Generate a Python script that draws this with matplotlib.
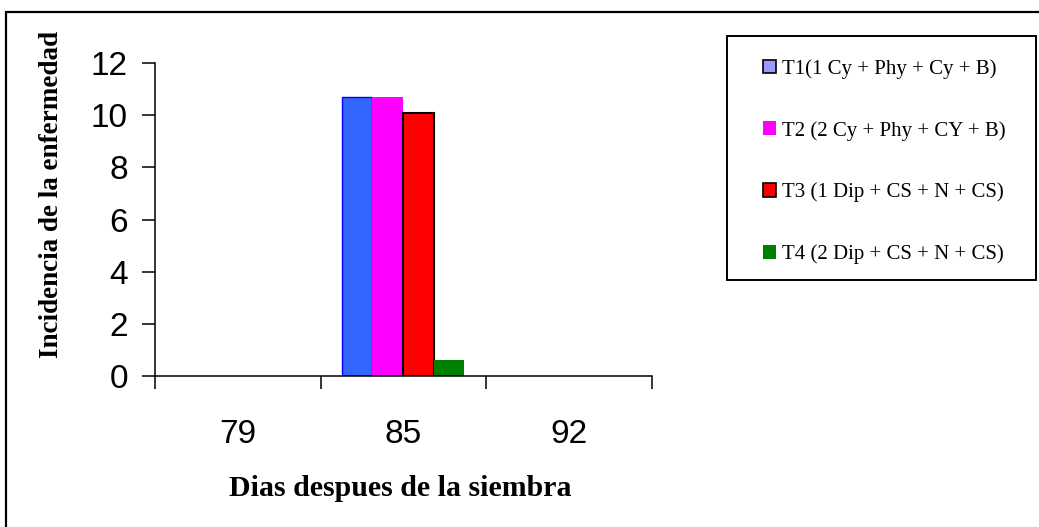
import matplotlib
matplotlib.use("Agg")
import matplotlib.pyplot as plt
from matplotlib.patches import Patch, Rectangle

# datos
dias = ["79", "85", "92"]
tratamientos = ["T1(1 Cy + Phy + Cy + B)", "T2 (2 Cy + Phy + CY + B)",
                "T3 (1 Dip + CS + N + CS)", "T4 (2 Dip + CS + N + CS)"]
t1 = [0, 10.7, 0]
t2 = [0, 10.7, 0]
t3 = [0, 10.1, 0]
t4 = [0, 0.6, 0]
y_ticks = [0, 2, 4, 6, 8, 10, 12]

serie = [t1, t2, t3, t4]
colores_barra = ["#3366FF", "#FF00FF", "#FF0000", "#008000"]
bordes_barra = ["#0000FF", "none", "black", "none"]
colores_leyenda = ["#9999FF", "#FF00FF", "#FF0000", "#008000"]
bordes_leyenda = ["black", "none", "black", "none"]

W, H = 1039, 527
fig = plt.figure(figsize=(W / 100, H / 100), dpi=100)
ax = fig.add_axes([155 / W, 1 - 376 / H, (652 - 155) / W, (376 - 63) / H])

ancho = 0.185
offsets = [-0.28, -0.095, 0.09, 0.275]
x = list(range(len(dias)))
for vals, off, c, e in zip(serie, offsets, colores_barra, bordes_barra):
    # sin borde en barras de valor cero
    bordes = [e if v > 0 else "none" for v in vals]
    ax.bar([i + off for i in x], vals, width=ancho, color=c,
           edgecolor=bordes, linewidth=1.5 if e == "black" else 1.0, zorder=2)

ax.set_xlim(-0.5, 2.5)
ax.set_ylim(0, 12)
ax.set_yticks(y_ticks)
ax.set_yticklabels([str(v) for v in y_ticks], fontfamily="Liberation Sans", fontsize=24)

# marcas entre categorias, etiquetas en el centro
ax.set_xticks([-0.5, 0.5, 1.5, 2.5])
ax.set_xticklabels([])
ax.set_xticks(x, minor=True)
ax.set_xticklabels(dias, minor=True, fontfamily="Liberation Sans", fontsize=24)
ax.tick_params(axis="x", which="minor", length=0, pad=31)
ax.tick_params(axis="both", which="major", direction="out", length=9.5, width=1.1, color="black")
ax.tick_params(axis="y", pad=10)

for s in ["top", "right"]:
    ax.spines[s].set_visible(False)
ax.spines["left"].set_linewidth(1.1)
ax.spines["bottom"].set_linewidth(1.1)

fig.text(400 / W, 1 - 489 / H, "Dias despues de la siembra", ha="center", va="center",
         fontfamily="Liberation Serif", fontweight="bold", fontsize=21.5)
fig.text(52 / W, 1 - 194 / H, "Incidencia de la enfermedad", ha="center", va="center",
         rotation=90, fontfamily="Liberation Serif", fontweight="bold", fontsize=19.5)

# marco exterior (solo izquierda y arriba visibles)
fig.add_artist(Rectangle((6 / W, -0.05), 1.1, 1 - 12 / H + 0.05, transform=fig.transFigure,
                         fill=False, edgecolor="black", linewidth=1.6))

# leyenda con marco propio
fig.add_artist(Rectangle((727 / W, 1 - 280 / H), (1036 - 727) / W, (280 - 36) / H,
                         transform=fig.transFigure, fill=False, edgecolor="black", linewidth=1.4))
handles = [Patch(facecolor=c, edgecolor=e, linewidth=1.2)
           for c, e in zip(colores_leyenda, bordes_leyenda)]
fig.legend(handles, tratamientos, loc="upper left", bbox_to_anchor=(763 / W, 1 - 59 / H),
           frameon=False, prop={"family": "Liberation Serif", "size": 15},
           handlelength=0.62, handleheight=0.62, handletextpad=0.3,
           labelspacing=2.02, borderpad=0, borderaxespad=0)

fig.savefig("out.png", dpi=100)
